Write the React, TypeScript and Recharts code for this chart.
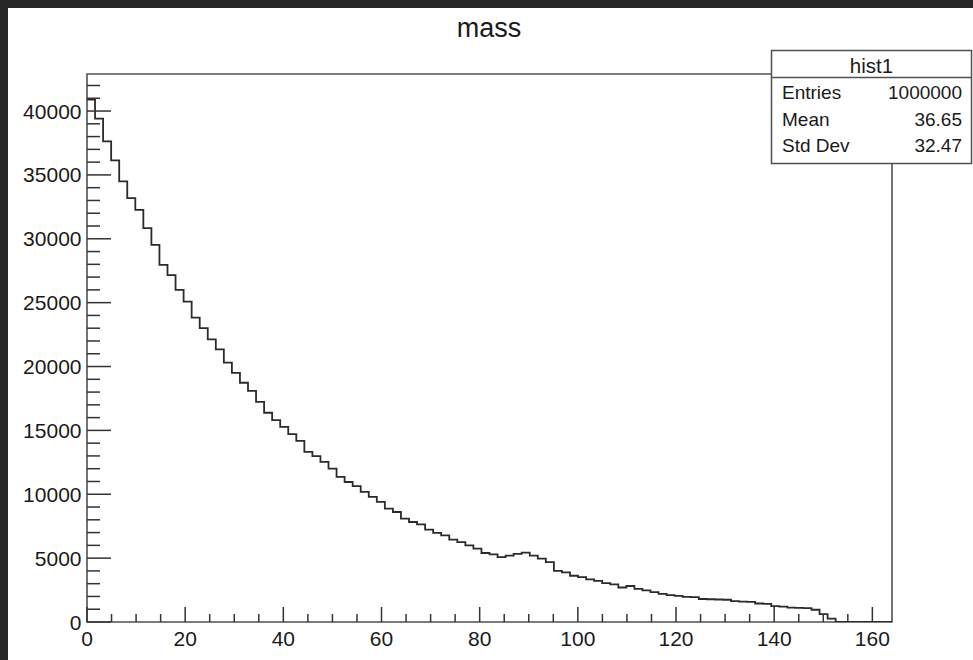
import { LineChart, Line, XAxis, YAxis, ReferenceArea } from 'recharts';

// 100 bins from 0 to 164
const BIN_WIDTH = 1.64;
const X_MAX = 164;
const Y_MAX = 42900;

const COUNTS = [
  40900, 39400, 37630, 36140, 34490, 33190, 32270, 30840, 29530, 27960,
  27150, 26000, 25080, 23830, 23000, 22130, 21350, 20300, 19500, 18730,
  18100, 17240, 16380, 15800, 15280, 14700, 14180, 13320, 12980, 12530,
  12000, 11360, 10960, 10630, 10180, 9790, 9400, 8880, 8610, 8090,
  7830, 7650, 7230, 6970, 6780, 6450, 6260, 6000, 5740, 5400,
  5290, 5080, 5200, 5330, 5430, 5200, 4960, 4690, 4000, 3880,
  3620, 3520, 3330, 3220, 3050, 2950, 2700, 2820, 2600, 2480,
  2340, 2200, 2100, 2050, 1960, 1940, 1800, 1780, 1760, 1740,
  1640, 1600, 1580, 1450, 1420, 1240, 1210, 1120, 1110, 1090,
  960, 620, 270, 0, 0, 0, 0, 0, 0, 0,
];

const X_MAJOR = [0, 20, 40, 60, 80, 100, 120, 140, 160];
const X_MINOR_STEP = 5;
const Y_MAJOR = [0, 5000, 10000, 15000, 20000, 25000, 30000, 35000, 40000];
const Y_MINOR_STEP = 1000;

const STATS = [
  { label: 'Entries', value: '1000000' },
  { label: 'Mean', value: '36.65' },
  { label: 'Std Dev', value: '32.47' },
];

const data = COUNTS.map((count, i) => ({ x: +(i * BIN_WIDTH).toFixed(2), count }));
data.push({ x: X_MAX, count: COUNTS[COUNTS.length - 1] });

const xTicks: number[] = [];
for (let v = 0; v <= X_MAJOR[X_MAJOR.length - 1]; v += X_MINOR_STEP) xTicks.push(v);
const yTicks: number[] = [];
for (let v = 0; v <= 42000; v += Y_MINOR_STEP) yTicks.push(v);

const FONT = '"Liberation Sans", Arial, Helvetica, sans-serif';
const INK = '#1a1a1a';
const FRAME = '#505050';

function XTick(props: any) {
  const { x, y, payload } = props;
  const major = X_MAJOR.includes(payload.value);
  return (
    <g>
      <line x1={x} x2={x} y1={y} y2={y - (major ? 15 : 8)} stroke="#333" strokeWidth={1.5} />
      {major && (
        <text x={x} y={y + 24} textAnchor="middle" fontSize={21} fontFamily={FONT} fill={INK}>
          {payload.value}
        </text>
      )}
    </g>
  );
}

function YTick(props: any) {
  const { x, y, payload } = props;
  const major = Y_MAJOR.includes(payload.value);
  return (
    <g>
      <line x1={x} x2={x + (major ? 24 : 13)} y1={y} y2={y} stroke="#333" strokeWidth={1.5} />
      {major && (
        <text x={x - 5.5} y={y + 7.5} textAnchor="end" fontSize={21} fontFamily={FONT} fill={INK}>
          {payload.value}
        </text>
      )}
    </g>
  );
}

export default function App() {
  return (
    <div style={{ position: 'absolute', left: 0, top: 0, width: 973, height: 660, background: '#262626', overflow: 'hidden' }}>
      <div style={{ position: 'absolute', left: 8, top: 8, right: 0, bottom: 0, background: '#fff' }} />
      <div style={{ position: 'absolute', left: 0, top: 0 }}>
        <LineChart width={973} height={660} data={data} margin={{ top: 74, right: 81, bottom: 8, left: 27 }}>
          <XAxis
            type="number"
            dataKey="x"
            domain={[0, X_MAX]}
            ticks={xTicks}
            interval={0}
            height={30}
            tickSize={0}
            tickMargin={0}
            axisLine={false}
            tickLine={false}
            tick={<XTick />}
            allowDataOverflow
          />
          <YAxis
            type="number"
            domain={[0, Y_MAX]}
            ticks={yTicks}
            interval={0}
            width={60}
            tickSize={0}
            tickMargin={0}
            axisLine={false}
            tickLine={false}
            tick={<YTick />}
            allowDataOverflow
          />
          <ReferenceArea
            x1={0}
            x2={X_MAX}
            y1={0}
            y2={Y_MAX}
            fill="none"
            stroke={FRAME}
            strokeWidth={1.6}
            ifOverflow="visible"
          />
          <Line
            type="stepAfter"
            dataKey="count"
            stroke="#2b2b2b"
            strokeWidth={1.8}
            dot={false}
            activeDot={false}
            isAnimationActive={false}
          />
        </LineChart>
      </div>
      <svg width={973} height={660} style={{ position: 'absolute', left: 0, top: 0, pointerEvents: 'none' }}>
        <text x={489} y={37} textAnchor="middle" fontSize={27} fontFamily={FONT} fill={INK}>
          mass
        </text>
        <rect x={771.5} y={50.5} width={200} height={113} fill="#fff" stroke={FRAME} strokeWidth={1.5} />
        <line x1={771.5} x2={971.5} y1={77.5} y2={77.5} stroke={FRAME} strokeWidth={1.5} />
        <text x={871.5} y={73} textAnchor="middle" fontSize={20.5} fontFamily={FONT} fill={INK}>
          hist1
        </text>
        {STATS.map((s, i) => (
          <g key={s.label}>
            <text x={782} y={99 + i * 26.5} fontSize={19} fontFamily={FONT} fill={INK}>
              {s.label}
            </text>
            <text x={962} y={99 + i * 26.5} textAnchor="end" fontSize={19} fontFamily={FONT} fill={INK}>
              {s.value}
            </text>
          </g>
        ))}
      </svg>
    </div>
  );
}
